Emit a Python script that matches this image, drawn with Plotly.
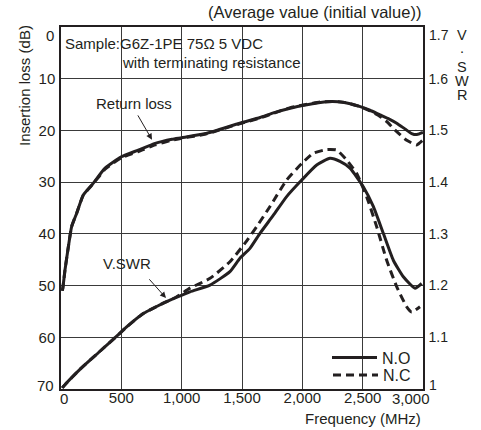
import plotly.graph_objects as go

# ---------------- data ----------------
# Return loss (dB, left axis)
freq_rl_no = [10, 15, 33, 61, 88, 130, 185, 268, 365, 500, 640, 780, 920, 1000, 1200, 1480,
              1650, 1760, 1900, 2050, 2150, 2250, 2350, 2480, 2560, 2644, 2720, 2782, 2850,
              2906, 2950, 3000]
rl_no = [51.0, 50.5, 47.0, 42.5, 38.6, 36.0, 32.5, 30.2, 27.3, 25.1, 23.8, 22.5, 21.7, 21.4,
         20.6, 18.6, 17.5, 16.6, 15.7, 15.0, 14.6, 14.4, 14.6, 15.4, 16.1, 17.0, 17.8, 18.6,
         19.7, 20.6, 20.8, 20.4]

freq_rl_nc = [10, 15, 33, 61, 88, 130, 185, 268, 365, 500, 640, 780, 920, 1000, 1200, 1480,
              1650, 1760, 1900, 2050, 2150, 2250, 2350, 2480, 2560, 2644, 2700, 2754, 2810,
              2865, 2948, 2997]
rl_nc = [51.0, 50.5, 47.0, 42.5, 38.6, 36.0, 32.5, 30.3, 27.5, 25.3, 24.1, 22.8, 21.9, 21.5,
         20.7, 18.7, 17.6, 16.7, 15.6, 14.9, 14.5, 14.4, 14.6, 15.4, 16.2, 17.3, 18.3, 19.6,
         20.8, 21.9, 22.8, 21.9]

# V.SWR (right axis)
freq_vswr_no = [10, 20, 157, 323, 489, 544, 682, 738, 848, 903, 1069, 1235, 1400, 1483, 1566,
                1649, 1760, 1870, 1995, 2119, 2229, 2312, 2395, 2505, 2588, 2671, 2754, 2837,
                2934, 2989]
vswr_no = [1.002, 1.005, 1.038, 1.073, 1.108, 1.120, 1.146, 1.153, 1.166, 1.172, 1.188, 1.201,
           1.227, 1.253, 1.272, 1.301, 1.336, 1.372, 1.404, 1.433, 1.446, 1.440, 1.427, 1.391,
           1.353, 1.301, 1.249, 1.217, 1.195, 1.204]

freq_vswr_nc = [10, 20, 157, 323, 489, 544, 682, 738, 848, 950, 1069, 1235, 1400, 1525, 1622,
                1732, 1870, 1995, 2091, 2202, 2285, 2367, 2450, 2533, 2616, 2699, 2782, 2865,
                2906, 2975]
vswr_nc = [1.002, 1.005, 1.038, 1.073, 1.108, 1.120, 1.146, 1.153, 1.166, 1.177, 1.195, 1.214,
           1.246, 1.282, 1.314, 1.353, 1.404, 1.436, 1.456, 1.463, 1.462, 1.443, 1.417, 1.372,
           1.314, 1.249, 1.198, 1.159, 1.149, 1.159]

# Axis ticks (the end labels of each axis are drawn pulled inward, as in the reference)
x_tickvals = [0, 500, 1000, 1500, 2000, 2500, 3000]
x_ticktext = ["0", "500", "1,000", "1,500", "2,000", "2,500", "3,000"]
y_tickvals = [0, 10, 20, 30, 40, 50, 60, 70]
y_ticktext = ["0", "10", "20", "30", "40", "50", "60", "70"]
y2_tickvals = [1.0, 1.1, 1.2, 1.3, 1.4, 1.5, 1.6, 1.7]
y2_ticktext = ["1", "1.1", "1.2", "1.3", "1.4", "1.5", "1.6", "1.7"]

# ---------------- styling ----------------
FONT = "Liberation Sans, Arial, sans-serif"
INK = "#231f20"
LW = 3
DASH = "8px,5px"

fig = go.Figure()

fig.add_trace(go.Scatter(x=freq_rl_no, y=rl_no, mode="lines", name="N.O", legendgroup="no",
                         legend="legend",
                         line=dict(color=INK, width=LW, shape="spline", smoothing=0.5)))
fig.add_trace(go.Scatter(x=freq_rl_nc, y=rl_nc, mode="lines", name="N.C", legendgroup="nc",
                         legend="legend2",
                         line=dict(color=INK, width=LW, dash=DASH, shape="spline", smoothing=0.5)))
fig.add_trace(go.Scatter(x=freq_vswr_no, y=vswr_no, mode="lines", name="N.O", legendgroup="no",
                         showlegend=False, yaxis="y2",
                         line=dict(color=INK, width=LW, shape="spline", smoothing=0.5)))
fig.add_trace(go.Scatter(x=freq_vswr_nc, y=vswr_nc, mode="lines", name="N.C", legendgroup="nc",
                         showlegend=False, yaxis="y2",
                         line=dict(color=INK, width=LW, dash=DASH, shape="spline", smoothing=0.5)))

L, R, T, B = 61, 58, 27, 41
W, H = 481, 430
PW, PH = W - L - R, H - T - B


def px(xp):
    return (xp - L) / PW


def py(yp):
    return (H - B - yp) / PH


ann = []
ann.append(dict(text="(Average value (initial value))", xref="paper", yref="paper",
                x=1.0, y=py(12), xanchor="right", yanchor="middle", showarrow=False,
                font=dict(size=16.5)))
ann.append(dict(text="Insertion loss (dB)", xref="paper", yref="paper", x=px(24), y=py(86),
                xanchor="center", yanchor="middle", textangle=-90, showarrow=False))
ann.append(dict(text="Frequency (MHz)", xref="paper", yref="paper", x=1.0, y=py(418),
                xanchor="right", yanchor="middle", showarrow=False))
for ch, yy in [("V", 35), (".", 48), ("S", 67), ("W", 81), ("R", 95)]:
    ann.append(dict(text=ch, xref="paper", yref="paper", x=px(462), y=py(yy),
                    xanchor="center", yanchor="middle", showarrow=False,
                    font=dict(size=14.5)))
ann.append(dict(text="Sample:G6Z-1PE 75Ω 5 VDC", xref="paper", yref="paper", x=px(63),
                y=py(43), xanchor="left", yanchor="middle", showarrow=False))
ann.append(dict(text="with terminating resistance", xref="paper", yref="paper", x=px(120),
                y=py(63), xanchor="left", yanchor="middle", showarrow=False))
ann.append(dict(text="Return loss", xref="paper", yref="paper", x=px(134), y=py(103),
                xanchor="center", yanchor="middle", showarrow=False))
ann.append(dict(text="V.SWR", xref="paper", yref="paper", x=px(127), y=py(263),
                xanchor="center", yanchor="middle", showarrow=False))
# pointer arrows
ann.append(dict(text="", xref="x", yref="y", x=754, y=21.8, axref="x", ayref="y",
                ax=630, ay=16.8, showarrow=True, arrowhead=2, arrowsize=1.2,
                arrowwidth=1, arrowcolor=INK))
ann.append(dict(text="", xref="x", yref="y", x=870, y=52.4, axref="x", ayref="y",
                ax=721, ay=48.5, showarrow=True, arrowhead=2, arrowsize=1.2,
                arrowwidth=1, arrowcolor=INK))

# end-of-axis tick labels, pulled inward like the reference
ann.append(dict(text=x_ticktext[0], xref="x", x=x_tickvals[0], yref="paper", y=py(398),
                xanchor="center", yanchor="middle", xshift=3, showarrow=False))
ann.append(dict(text=x_ticktext[-1], xref="x", x=x_tickvals[-1], yref="paper", y=py(398),
                xanchor="center", yanchor="middle", xshift=-12, showarrow=False))
ann.append(dict(text=y_ticktext[0], xref="paper", x=px(56), yref="y", y=y_tickvals[0],
                xanchor="right", yanchor="middle", yshift=-8, showarrow=False))
ann.append(dict(text=y_ticktext[-1], xref="paper", x=px(56), yref="y", y=y_tickvals[-1],
                xanchor="right", yanchor="middle", yshift=4, showarrow=False))
ann.append(dict(text=y2_ticktext[-1], xref="paper", x=px(427), yref="y2", y=y2_tickvals[-1],
                xanchor="left", yanchor="middle", yshift=-8, showarrow=False,
                font=dict(size=14)))
ann.append(dict(text=y2_ticktext[0], xref="paper", x=px(427), yref="y2", y=y2_tickvals[0],
                xanchor="left", yanchor="middle", yshift=4, showarrow=False,
                font=dict(size=14)))


def inner(lbls):
    return [""] + list(lbls[1:-1]) + [""]


# white panel behind the legend (hides the grid there, stays under the traces)
shapes = [dict(type="rect", xref="paper", yref="paper", x0=px(328), x1=px(422),
               y0=py(388.5), y1=py(347), fillcolor="white", line=dict(width=0),
               layer="between")]

leg_common = dict(xanchor="right", yanchor="middle", bgcolor="rgba(0,0,0,0)",
                  borderwidth=0, font=dict(size=16), itemwidth=45)

fig.update_layout(
    width=W, height=H,
    margin=dict(l=L, r=R, t=T, b=B, pad=0),
    paper_bgcolor="white", plot_bgcolor="white",
    font=dict(family=FONT, size=15, color=INK),
    showlegend=True,
    legend=dict(x=px(416), y=py(357.5), **leg_common),
    legend2=dict(x=px(416), y=py(375), **leg_common),
    annotations=ann,
    shapes=shapes,
    xaxis=dict(range=[0, 3000], tickvals=x_tickvals, ticktext=inner(x_ticktext),
               showgrid=True, gridcolor="#3a3a3a", gridwidth=1,
               showline=True, linecolor=INK, linewidth=1.5, mirror=True,
               ticks="", ticklabelstandoff=-6, zeroline=False),
    yaxis=dict(range=[70, 0], tickvals=y_tickvals, ticktext=inner(y_ticktext),
               showgrid=True, gridcolor="#3a3a3a",
               gridwidth=1, showline=True, linecolor=INK, linewidth=1.5, mirror=True,
               ticks="", ticklabelstandoff=1, zeroline=False),
    yaxis2=dict(range=[1.0, 1.7], tickvals=y2_tickvals, ticktext=inner(y2_ticktext),
                overlaying="y", side="right", showgrid=False, showline=True,
                linecolor=INK, linewidth=1.5, ticks="", ticklabelstandoff=1,
                tickfont=dict(size=14), zeroline=False),
)

fig.write_html("out.html", config={"displayModeBar": False},
               post_script="document.body.style.margin='0';document.body.style.padding='0';")
